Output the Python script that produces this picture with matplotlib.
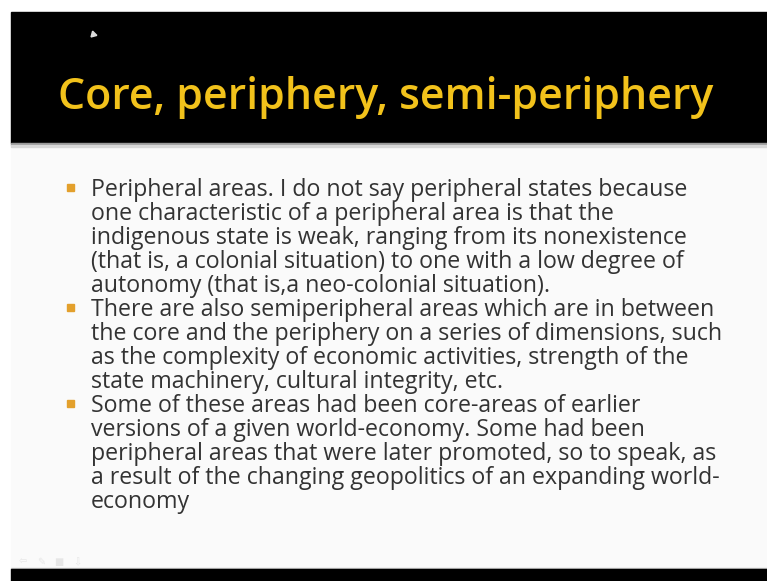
import matplotlib
matplotlib.use("Agg")
import matplotlib.pyplot as plt
from matplotlib.patches import Rectangle

# 幻灯片内容
title = "Core, periphery, semi-periphery"

body_lines = [
    "Peripheral areas. I do not say peripheral states because",
    "one characteristic of a peripheral area is that the",
    "indigenous state is weak, ranging from its nonexistence",
    "(that is, a colonial situation) to one with a low degree of",
    "autonomy (that is,a neo-colonial situation).",
    "There are also semiperipheral areas which are in between",
    "the core and the periphery on a series of dimensions, such",
    "as the complexity of economic activities, strength of the",
    "state machinery, cultural integrity, etc.",
    "Some of these areas had been core-areas of earlier",
    "versions of a given world-economy. Some had been",
    "peripheral areas that were later promoted, so to speak, as",
    "a result of the changing geopolitics of an expanding world-",
    "economy",
]
bullet_starts = [0, 5, 9]

# 左下角放映工具栏图标（很淡）
nav_icons = ["⇦", "✎", "■", "⇩"]

W, H = 767, 581
fig = plt.figure(figsize=(W / 100, H / 100), dpi=100)
ax = fig.add_axes([0, 0, 1, 1])
ax.set_xlim(0, W)
ax.set_ylim(H, 0)
ax.axis("off")

# 背景
ax.add_patch(Rectangle((0, 0), W, H, color="white", zorder=0))
ax.add_patch(Rectangle((11, 147), W - 11, 423, color="#fafafa", zorder=1))
ax.add_patch(Rectangle((11, 12), W - 11, 131, color="black", zorder=1))
ax.add_patch(Rectangle((11, 143), W - 11, 2, color="#9a9a9a", zorder=1))
ax.add_patch(Rectangle((11, 145), W - 11, 2, color="#d8d8d8", zorder=1))
ax.add_patch(Rectangle((11, 568), W - 11, 1, color="#c8c8c8", zorder=1))
ax.add_patch(Rectangle((11, 569), W - 11, 12, color="black", zorder=1))

# 鼠标指针
ax.plot([93], [34], marker=(3, 0, 15), color="#dddddd", markersize=5, zorder=3)

for k, ic in enumerate(nav_icons):
    ax.text(23 + 18 * k, 562, ic, fontsize=7, color="#e6e6e6",
            family="DejaVu Sans", ha="center", va="center", zorder=2)

renderer = fig.canvas.get_renderer()


def fit_text(x, y, s, width, size, **kw):
    """按目标像素宽度调整字号"""
    t = ax.text(x, y, s, fontsize=size, ha="left", va="baseline", zorder=3, **kw)
    w = t.get_window_extent(renderer).width
    t.set_fontsize(size * width / w)
    return t


# 标题
fit_text(58, 109, title, 655, 27, color="#f2c21b", family="Open Sans",
         weight="semibold")

# 正文
base0, step = 196, 24.0
t0 = fit_text(91, base0, body_lines[0], 599, 15, color="#333333",
              family="Open Sans")
body_size = t0.get_fontsize()
for i, line in enumerate(body_lines[1:], start=1):
    ax.text(91, base0 + step * i, line, color="#333333", fontsize=body_size,
            family="Open Sans", ha="left", va="baseline", zorder=3)
for i in bullet_starts:
    y = base0 + step * i
    ax.add_patch(Rectangle((67, y - 12), 7, 7, color="#e3a02c", zorder=3))

fig.savefig("out.png", dpi=100)
plt.close(fig)
